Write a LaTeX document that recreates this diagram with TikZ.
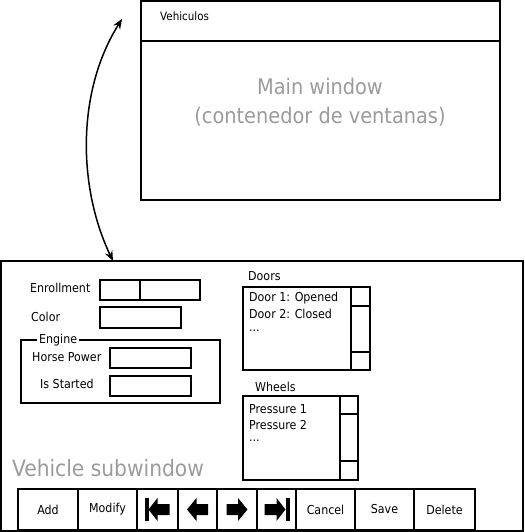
\documentclass[tikz,border=0pt]{standalone}
\usepackage{fontspec}
\setmainfont{DejaVu Sans Condensed}
\usetikzlibrary{positioning, arrows.meta}
\definecolor{captiongray}{RGB}{155,155,155}

\begin{document}
\begin{tikzpicture}[
        x=1pt, y=-1pt,
        frame/.style={draw, line width=1.2pt, anchor=north west, inner sep=0pt, outer sep=0pt},
        field/.style={frame, minimum height=20pt},
        lbl/.style={anchor=west, inner sep=0pt, font=\fontsize{12.3}{14}\selectfont},
        caption/.style={text=captiongray, align=center, font=\fontsize{21.5}{29}\selectfont},
        button/.style={frame, minimum height=41pt, font=\fontsize{12.3}{14}\selectfont},
        navarrow/.pic={\fill (-10.5,0) -- (-1,-11.5) -- (-1,-5.5) -- (10.5,-5.5) -- (10.5,5.5) -- (-1,5.5) -- (-1,11.5) -- cycle;},
        navend/.pic={\fill (-13,-11.5) rectangle (-9,11.5);
                     \fill (-9,0) -- (0,-11.5) -- (0,-5.5) -- (12,-5.5) -- (12,5.5) -- (0,5.5) -- (0,11.5) -- cycle;},
        link/.style={{Stealth[length=10pt,width=8pt]}-{Stealth[length=10pt,width=8pt]}, line width=1.5pt}
    ]
        \useasboundingbox (0,0) rectangle (524,532);

        % main window
        \node[frame, minimum width=359pt, minimum height=40pt] (titlebar) at (141,1) {};
        \node[frame, minimum width=359pt, minimum height=159pt] (mainwin) at (141,41) {};
        \node[lbl, font=\fontsize{11.5}{13}\selectfont] (title) at (160,16) {Vehiculos};
        \node[caption] (maincap) at (320,102) {Main window\\(contenedor de ventanas)};

        % subwindow
        \node[frame, minimum width=522pt, minimum height=270pt] (subwin) at (1,261) {};
        \node[caption, anchor=west, inner sep=0pt, font=\fontsize{22.5}{29}\selectfont] (subcap) at (12,468) {Vehicle subwindow};

        \coordinate (linktop) at (122,19);
        \coordinate (linkbot) at ([xshift=112pt]subwin.north west);
        \draw[link] (linktop) .. controls (76,92) and (78,188) .. (linkbot);

        % fields
        \node[lbl] (enrolllbl) at (30,288) {Enrollment};
        \node[field, minimum width=40pt] (enrollA) at (100,280) {};
        \node[field, minimum width=60pt, right=0pt of enrollA] (enrollB) {};
        \node[lbl] (colorlbl) at (31,317) {Color};
        \node[field, minimum width=81pt, minimum height=21pt] (colorbox) at (100,307) {};

        % engine group
        \node[frame, minimum width=199pt, minimum height=63pt] (engine) at (21,340) {};
        \node[lbl, fill=white, inner xsep=2pt] (enginelbl) at (37,340) {Engine};
        \node[lbl] (hplbl) at (32,357) {Horse Power};
        \node[field, minimum width=81pt] (hpbox) at (110,348) {};
        \node[lbl] (startlbl) at (40,384) {Is Started};
        \node[field, minimum width=81pt] (startbox) at (110,376) {};

        % doors list
        \node[lbl] (doorslbl) at (248,276) {Doors};
        \node[frame, minimum width=127pt, minimum height=83pt] (doors) at (243,287) {};
        \node[frame, minimum width=19pt, minimum height=83pt] (doorscroll) at (351,287) {};
        \node[frame, minimum width=19pt, minimum height=19pt] (doorsup) at (351,287) {};
        \node[frame, minimum width=19pt, minimum height=18pt] (doorsdown) at (351,352) {};
        \node[lbl] (door1) at (249,298) {Door 1: Opened};
        \node[lbl] (door2) at (249,314) {Door 2: Closed};
        \node[lbl] (doormore) at (249,331) {...};

        % wheels list
        \node[lbl] (wheelslbl) at (255,387) {Wheels};
        \node[frame, minimum width=115pt, minimum height=84pt] (wheels) at (243,396) {};
        \node[frame, minimum width=18pt, minimum height=84pt] (wheelscroll) at (340,396) {};
        \node[frame, minimum width=18pt, minimum height=18pt] (wheelsup) at (340,396) {};
        \node[frame, minimum width=18pt, minimum height=19pt] (wheelsdown) at (340,461) {};
        \node[lbl] (press1) at (249,409) {Pressure 1};
        \node[lbl] (press2) at (249,425) {Pressure 2};
        \node[lbl] (pressmore) at (249,441) {...};

        % button bar
        \node[button, minimum width=60pt] (add) at (18,489) {Add};
        \node[button, minimum width=59pt, right=0pt of add] (modify) {Modify};
        \node[button, minimum width=41pt, right=0pt of modify] (first) {};
        \node[button, minimum width=39pt, right=0pt of first] (prev) {};
        \node[button, minimum width=40pt, right=0pt of prev] (next) {};
        \node[button, minimum width=39pt, right=0pt of next] (last) {};
        \node[button, minimum width=59pt, right=0pt of last] (cancel) {Cancel};
        \node[button, minimum width=59pt, right=0pt of cancel] (save) {Save};
        \node[button, minimum width=61pt, right=0pt of save] (delete) {Delete};

        \pic at (first) {navend};
        \pic at (prev) {navarrow};
        \pic[rotate=180] at (next) {navarrow};
        \pic[rotate=180] at (last) {navend};
    \end{tikzpicture}
\end{document}
